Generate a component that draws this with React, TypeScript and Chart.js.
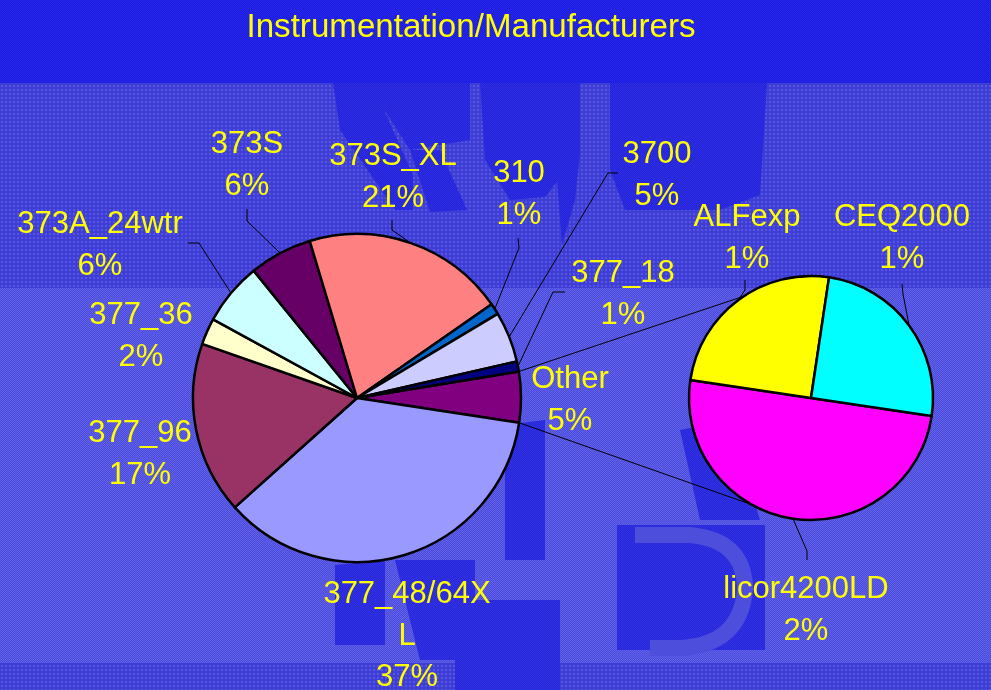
import React, { useEffect, useRef } from 'react';
import { Chart, registerables } from 'chart.js';
Chart.register(...registerables);

// ---- data ----
const titleText = 'Instrumentation/Manufacturers';
const mainLabels = ['Other', '377_48/64XL', '377_96', '377_36', '373A_24wtr', '373S', '373S_XL', '310', '3700', '377_18'];
const mainValues = [5, 36, 17, 2.6, 6.2, 6.2, 20, 1.1, 5, 1];
const mainPercents = [5, 37, 17, 2, 6, 6, 21, 1, 5, 1];
const mainColors = ['#800080', '#9999FF', '#993366', '#FFFFCC', '#CCFFFF', '#660066', '#FF8080', '#0066CC', '#CCCCFF', '#000080'];
const subLabels = ['licor4200LD', 'ALFexp', 'CEQ2000'];
const subValues = [2, 1, 1];
const subPercents = [2, 1, 1];
const subColors = ['#FF00FF', '#FFFF00', '#00FFFF'];

// ---- layout ----
const W = 991;
const H = 690;
const FONT = '"Liberation Sans", Arial, Helvetica, sans-serif';
const LABEL_PX = 31;
const LINE_H = 41.5;
const WRAP_W = 175;
const mainLabelPos: [number, number][] = [
  [570, 388], [407, 603], [140, 442], [141, 324], [100, 233],
  [247, 153], [393, 165], [519, 182], [657, 163], [623, 282],
];
const mainLeaders: ([number, number][] | null)[] = [
  null, null, null, null,
  [[188, 243], [199, 243]],
  [[247, 209], [247, 221]],
  [[392, 220], [392, 230]],
  [[518, 238], [519, 248]],
  [[618, 173], [608, 173]],
  [[565, 292], [553, 292]],
];
const subLabelPos: [number, number][] = [[806, 598], [747, 226], [902, 226]];
const subLeaders: [number, number][][] = [
  [[807, 560], [807, 551]],
  [[745, 280], [745, 290]],
  [[902, 284], [903, 294]],
];
// angles (deg) on the second pie where the connector lines meet it
const connectorAngles = [236.5, 119];

// decorative watermark blobs of the slide background
const watermarkBand2: [number, number][][] = [
  [[333, 83], [372, 83], [413, 175], [413, 210], [395, 210], [340, 130]],
  [[367, 83], [470, 83], [470, 140], [410, 150]],
  [[410, 150], [440, 150], [467, 210], [430, 212]],
  [[480, 83], [580, 83], [580, 153], [545, 197], [510, 200], [485, 160]],
  [[555, 153], [580, 153], [575, 200], [562, 245]],
  [[610, 83], [767, 83], [760, 195], [720, 210], [625, 210], [610, 170]],
];
const watermarkBand3: [number, number][][] = [
  [[335, 565], [385, 560], [385, 645], [335, 645]],
  [[395, 560], [475, 560], [475, 660], [420, 660]],
  [[505, 425], [545, 420], [545, 560], [505, 560]],
  [[455, 600], [560, 600], [560, 690], [455, 690]],
  [[617, 525], [765, 525], [765, 650], [617, 650]],
  [[680, 430], [730, 420], [760, 520], [700, 520]],
];

function makePattern(ctx: CanvasRenderingContext2D, base: string, dot: string, kind: string) {
  const c = document.createElement('canvas');
  c.width = 4; c.height = 4;
  const g = c.getContext('2d')!;
  g.fillStyle = base; g.fillRect(0, 0, 4, 4);
  g.fillStyle = dot;
  if (kind === 'checker') {
    for (let y = 0; y < 4; y++) for (let x = 0; x < 4; x++) if ((x + y) % 2 === 0) g.fillRect(x, y, 1, 1);
  } else {
    g.fillRect(1, 1, 2, 2);
  }
  return ctx.createPattern(c, 'repeat')!;
}

function wrapText(ctx: CanvasRenderingContext2D, s: string): string[] {
  const out: string[] = [];
  let cur = '';
  for (const ch of s) {
    if (cur && ctx.measureText(cur + ch).width > WRAP_W) { out.push(cur); cur = ch; } else cur += ch;
  }
  if (cur) out.push(cur);
  return out;
}

function drawLabel(ctx: CanvasRenderingContext2D, name: string, pct: number, pos: [number, number]) {
  ctx.save();
  ctx.font = `${LABEL_PX}px ${FONT}`;
  ctx.fillStyle = '#FFFF00';
  ctx.textAlign = 'center';
  ctx.textBaseline = 'alphabetic';
  const lines = [...wrapText(ctx, name), `${pct}%`];
  lines.forEach((l, i) => ctx.fillText(l, pos[0], pos[1] + i * LINE_H));
  ctx.restore();
}

function drawLeader(ctx: CanvasRenderingContext2D, pts: [number, number][], arc: any) {
  const p = arc.getProps(['x', 'y', 'startAngle', 'endAngle', 'outerRadius'], true);
  const mid = (p.startAngle + p.endAngle) / 2;
  const ex = p.x + p.outerRadius * Math.cos(mid);
  const ey = p.y + p.outerRadius * Math.sin(mid);
  ctx.save();
  ctx.strokeStyle = '#000000';
  ctx.lineWidth = 1;
  ctx.beginPath();
  ctx.moveTo(pts[0][0], pts[0][1]);
  for (let i = 1; i < pts.length; i++) ctx.lineTo(pts[i][0], pts[i][1]);
  ctx.lineTo(ex, ey);
  ctx.stroke();
  ctx.restore();
}

function fillPolys(ctx: CanvasRenderingContext2D, polys: [number, number][][], style: any, clipY0: number, clipY1: number) {
  ctx.save();
  ctx.beginPath();
  ctx.rect(0, clipY0, W, clipY1 - clipY0);
  ctx.clip();
  ctx.fillStyle = style;
  polys.forEach((poly) => {
    ctx.beginPath();
    poly.forEach(([x, y], i) => (i ? ctx.lineTo(x, y) : ctx.moveTo(x, y)));
    ctx.closePath();
    ctx.fill();
  });
  ctx.restore();
}

const backgroundPlugin = {
  id: 'bg',
  beforeDraw(chart: any) {
    const ctx: CanvasRenderingContext2D = chart.ctx;
    ctx.save();
    ctx.fillStyle = makePattern(ctx, '#1A1AE0', '#2828E8', 'checker');
    ctx.fillRect(0, 0, W, 83);
    ctx.fillStyle = makePattern(ctx, '#3E3ED6', '#5656E0', 'grid');
    ctx.fillRect(0, 83, W, 205);
    ctx.fillStyle = makePattern(ctx, '#4A4ADC', '#6262E8', 'checker');
    ctx.fillRect(0, 288, W, 375);
    ctx.fillStyle = makePattern(ctx, '#3E3ED6', '#5656E0', 'grid');
    ctx.fillRect(0, 663, W, H - 663);
    ctx.restore();
    fillPolys(ctx, watermarkBand2, makePattern(ctx, '#2424DC', '#2E2EE0', 'checker'), 83, 288);
    fillPolys(ctx, watermarkBand3, makePattern(ctx, '#2626DC', '#3232E0', 'checker'), 288, 690);
    // light "D" stroke of the watermark
    ctx.save();
    ctx.strokeStyle = '#4E4EDC';
    ctx.lineWidth = 16;
    ctx.beginPath();
    ctx.moveTo(635, 535);
    ctx.lineTo(690, 535);
    ctx.quadraticCurveTo(745, 540, 745, 590);
    ctx.quadraticCurveTo(740, 645, 680, 648);
    ctx.lineTo(650, 648);
    ctx.stroke();
    ctx.restore();
  },
};

const mainTextPlugin = {
  id: 'mainText',
  afterDraw(chart: any) {
    const ctx: CanvasRenderingContext2D = chart.ctx;
    ctx.save();
    ctx.font = `34px ${FONT}`;
    ctx.fillStyle = '#FFFF00';
    ctx.textAlign = 'center';
    ctx.fillText(titleText, 471, 37, 449);
    ctx.restore();
    const meta = chart.getDatasetMeta(0);
    mainLabels.forEach((name, i) => {
      const ld = mainLeaders[i];
      if (ld) drawLeader(ctx, ld, meta.data[i]);
      drawLabel(ctx, name, mainPercents[i], mainLabelPos[i]);
    });
  },
};

export default function App() {
  const mainRef = useRef<HTMLCanvasElement>(null);
  const subRef = useRef<HTMLCanvasElement>(null);

  useEffect(() => {
    document.body.style.margin = '0';
    const main = new Chart(mainRef.current!, {
      type: 'pie',
      data: {
        labels: mainLabels,
        datasets: [{
          data: mainValues,
          backgroundColor: mainColors,
          borderColor: '#000000',
          borderWidth: 2.5,
        }],
      },
      options: {
        responsive: false,
        animation: false,
        devicePixelRatio: 1,
        rotation: 80.7,
        radius: 164,
        layout: { padding: { left: 0, right: 277, top: 106, bottom: 0 } },
        plugins: { legend: { display: false }, tooltip: { enabled: false }, title: { display: false } },
        events: [],
      } as any,
      plugins: [backgroundPlugin, mainTextPlugin],
    });

    const connectorPlugin = {
      id: 'connectors',
      beforeDatasetsDraw(chart: any) {
        const ctx: CanvasRenderingContext2D = chart.ctx;
        const other = main.getDatasetMeta(0).data[0] as any;
        const op = other.getProps(['x', 'y', 'startAngle', 'endAngle', 'outerRadius'], true);
        const sub = chart.getDatasetMeta(0).data[0] as any;
        const sp = sub.getProps(['x', 'y', 'outerRadius'], true);
        const starts = [op.startAngle, op.endAngle];
        ctx.save();
        ctx.strokeStyle = '#000000';
        ctx.lineWidth = 1;
        starts.forEach((a: number, i: number) => {
          const b = (connectorAngles[i] * Math.PI) / 180;
          ctx.beginPath();
          ctx.moveTo(op.x + op.outerRadius * Math.cos(a), op.y + op.outerRadius * Math.sin(a));
          ctx.lineTo(sp.x + sp.outerRadius * Math.cos(b), sp.y + sp.outerRadius * Math.sin(b));
          ctx.stroke();
        });
        ctx.restore();
      },
      afterDraw(chart: any) {
        const ctx: CanvasRenderingContext2D = chart.ctx;
        const meta = chart.getDatasetMeta(0);
        subLabels.forEach((name, i) => {
          drawLeader(ctx, subLeaders[i], meta.data[i]);
          drawLabel(ctx, name, subPercents[i], subLabelPos[i]);
        });
      },
    };

    const second = new Chart(subRef.current!, {
      type: 'pie',
      data: {
        labels: subLabels,
        datasets: [{
          data: subValues,
          backgroundColor: subColors,
          borderColor: '#000000',
          borderWidth: 2.5,
        }],
      },
      options: {
        responsive: false,
        animation: false,
        devicePixelRatio: 1,
        rotation: 98.5,
        radius: 122,
        layout: { padding: { left: 631, right: 0, top: 106, bottom: 0 } },
        plugins: { legend: { display: false }, tooltip: { enabled: false }, title: { display: false } },
        events: [],
      } as any,
      plugins: [connectorPlugin],
    });

    return () => {
      second.destroy();
      main.destroy();
    };
  }, []);

  return (
    <div style={{ position: 'relative', width: W, height: H, overflow: 'hidden' }}>
      <canvas ref={mainRef} width={W} height={H} style={{ position: 'absolute', left: 0, top: 0 }} />
      <canvas ref={subRef} width={W} height={H} style={{ position: 'absolute', left: 0, top: 0 }} />
    </div>
  );
}
